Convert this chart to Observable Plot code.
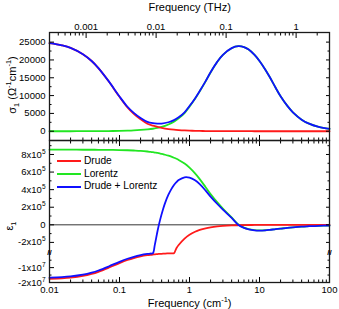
<!DOCTYPE html>
<html><head><meta charset="utf-8">
<script src="https://cdn.jsdelivr.net/npm/d3@7"></script>
<script src="https://cdn.jsdelivr.net/npm/@observablehq/plot@0.6"></script>
<style>
body{margin:0;background:#fff;font-family:"Liberation Sans",Arial,Helvetica,sans-serif;}
#wrap{position:relative;width:339px;height:309px;overflow:hidden;background:#fff}
#wrap svg{position:absolute;left:0}
.t{position:absolute;white-space:nowrap;color:#000;line-height:1}
.t sup,.t sub{font-size:68%;line-height:0}
.leg{position:absolute;display:flex;align-items:center;font-size:10.2px;color:#000;white-space:nowrap;line-height:1}
.leg span.sw{display:inline-block;width:24px;height:2px;margin-right:3px}
</style></head>
<body><div id="wrap"></div>
<script>
// ---- data ----
const freq = [0.01,0.015,0.02,0.03,0.04,0.05,0.07,0.1,0.13,0.16,0.2,0.25,0.3,0.35,0.4,0.5,0.6,0.7,0.85,1,1.2,1.4,1.7,2,2.5,3,4,5,6,7,8.5,10,12,14,17,20,25,30,40,50,70,100];
const sigmaDrude = [24700,24100,23400,21600,19700,17700,14000,9650,6700,4900,3350,2100,1550,1200,950,620,430,320,215,157,110,80,55,40,25,18,10,6,4,3,2,2,1,1,1,0,0,0,0,0,0,0];
const sigmaLorentz = [0,0,2,8,15,24,48,100,165,240,360,520,700,950,1200,1900,2700,3600,5100,6900,9100,11200,14000,16500,19500,21400,23300,23850,23600,22900,21400,19700,17400,15200,12200,9800,7100,5300,3250,2200,1220,640];
const sigmaTotal = [24700,24100,23402,21608,19715,17724,14048,9750,6865,5140,3710,2620,2250,2150,2150,2520,3130,3920,5315,7057,9210,11280,14055,16540,19525,21418,23310,23856,23604,22903,21402,19702,17401,15201,12201,9800,7100,5300,3250,2200,1220,640];

const epsFreq = [0.01,0.015,0.02,0.03,0.04,0.05,0.07,0.1,0.13,0.16,0.2,0.25,0.28,0.3,0.32,0.35,0.38,0.42,0.45,0.5,0.55,0.6,0.65,0.7,0.85,1,1.2,1.4,1.7,2,2.5,3,4,5,6,7,8.5,10,12,14,17,20,25,30,40,50,70,100];
const epsDrude = [-17530000,-17195000,-16750000,-15610000,-14240000,-12800000,-10080000,-6950000,-4890000,-3560000,-2455000,-1653000,-1343000,-1182000,-1047000,-884000,-755000,-623000,-545000,-444000,-369000,-311000,-266000,-229500,-156300,-113200,-78800,-58000,-39300,-28400,-18200,-12650,-7120,-4560,-3160,-2325,-1577,-1139,-791,-581,-394,-285,-182,-127,-71,-46,-23,-11];
const epsLorentz = [855000,855000,855000,854000,854000,853000,852000,850000,848000,845000,841000,834000,829000,826000,822000,817000,811000,803000,797000,786000,775000,763000,751000,738000,697000,650000,585000,520000,428000,350000,255000,185000,85000,3000,-32000,-50000,-61000,-64000,-62000,-57000,-49000,-43000,-34000,-28000,-20000,-16000,-11000,-8000];
const epsTotal = [-16675000,-16340000,-15895000,-14756000,-13386000,-11947000,-9228000,-6100000,-4042000,-2715000,-1614000,-819000,-514000,-356000,-225000,-67000,56000,180000,252000,342000,406000,452000,485000,508500,540700,536800,506200,462000,388700,321600,236800,172350,77880,-1560,-35160,-52325,-62577,-65139,-62791,-57581,-49394,-43285,-34182,-28127,-20071,-16046,-11023,-8011];

const seriesNames = ["Drude", "Lorentz", "Drude + Lorentz"];
const seriesColors = ["#ff1a1a", "#22e622", "#1010ff"];

const xTicks = [0.01, 0.1, 1, 10, 100];
const thzTicks = [0.001, 0.01, 0.1, 1];
const thzLabels = ["0.001", "0.01", "0.1", "1"];
const sigmaTicks = [0, 5000, 10000, 15000, 20000, 25000];
const epsUpperTicks = [800000, 600000, 400000, 200000, 0, -200000];
const epsLowerTicks = [-10000000, -20000000];

// ---- helpers ----
const C = 0.0299792458; // THz per cm^-1
const BRK = -3e5, GAP = 22750, K = 0.01692; // broken-axis mapping for eps1
const T = v => v >= BRK ? v : BRK - GAP + (v - BRK) * K;

const xMinor = [];
for (const d of [0.01, 0.1, 1, 10]) for (let m = 2; m <= 9; m++) xMinor.push(d * m);
const thzMinor = [];
for (const d of [0.0001, 0.001, 0.01, 0.1, 1]) for (let m = 2; m <= 9; m++) {
  const v = d * m / C; if (v > 0.01 && v < 100) thzMinor.push(v);
}
const sigmaMinor = [2500, 7500, 12500, 17500, 22500];
const epsUpperMinor = [900000, 700000, 500000, 300000, 100000, -100000];
const epsLowerMinor = [-5000000, -15000000];

const epsLabel = new Map();
for (const v of [...epsUpperTicks, ...epsLowerTicks]) {
  if (v === 0) { epsLabel.set(T(v), "0"); continue; }
  const e = Math.floor(Math.log10(Math.abs(v)));
  const m = Math.round(v / Math.pow(10, e));
  epsLabel.set(T(v), `${m}x10^${e}`);
}

const font = '"Liberation Sans", Arial, Helvetica, sans-serif';
const style = {fontFamily: font, fontSize: "9.5px", background: "transparent", color: "#000", overflow: "visible"};
const frameStroke = "#1a1a1a";
const lw = 1.8;
const curve = "catmull-rom";
const [RED, GREEN, BLUE] = seriesColors;

const sigmaRows = freq.map((f, i) => ({f, drude: sigmaDrude[i], lorentz: sigmaLorentz[i], total: sigmaTotal[i]}));
const epsRows = epsFreq.map((f, i) => ({f, drude: epsDrude[i], lorentz: epsLorentz[i], total: epsTotal[i]}));
const thzRows = thzTicks.map((t, i) => ({x: t / C, label: thzLabels[i]}));

const blank = () => "";

const topPlot = Plot.plot({
  width: 339, height: 141, marginTop: 32, marginBottom: 1, marginLeft: 49, marginRight: 10,
  style,
  x: {type: "log", domain: [0.01, 100]},
  y: {domain: [-2600, 27700]},
  marks: [
    Plot.line(sigmaRows, {x: "f", y: "lorentz", stroke: GREEN, strokeWidth: lw, curve}),
    Plot.line(sigmaRows, {x: "f", y: "drude", stroke: RED, strokeWidth: lw, curve}),
    Plot.line(sigmaRows, {x: "f", y: "total", stroke: BLUE, strokeWidth: lw, curve}),
    Plot.axisX({anchor: "bottom", ticks: xTicks, tickSize: -5, tickFormat: blank, label: null}),
    Plot.axisX({anchor: "bottom", ticks: xMinor, tickSize: -2.5, tickFormat: blank, label: null}),
    Plot.axisX({anchor: "top", ticks: thzRows.map(d => d.x), tickSize: -5, tickFormat: blank, label: null}),
    Plot.axisX({anchor: "top", ticks: thzMinor, tickSize: -2.5, tickFormat: blank, label: null}),
    Plot.text(thzRows, {x: "x", text: "label", frameAnchor: "top", dy: -9, fill: "#000", fontSize: 9.5}),
    Plot.axisY({anchor: "left", ticks: sigmaTicks, tickSize: -5, tickPadding: 9, tickFormat: d3.format("d"), label: null}),
    Plot.axisY({anchor: "left", ticks: sigmaMinor, tickSize: -2.5, tickFormat: blank, label: null}),
    Plot.axisY({anchor: "right", ticks: sigmaTicks, tickSize: -4, tickFormat: blank, label: null}),
    Plot.axisY({anchor: "right", ticks: sigmaMinor, tickSize: -2.5, tickFormat: blank, label: null}),
    Plot.frame({stroke: frameStroke, strokeWidth: 1.3})
  ]
});
topPlot.style.top = "0px";

const botPlot = Plot.plot({
  width: 339, height: 170, marginTop: 1, marginBottom: 27, marginLeft: 49, marginRight: 10,
  style,
  x: {type: "log", domain: [0.01, 100]},
  y: {domain: [T(-2e7), 9.59e5]},
  marks: [
    Plot.ruleY([0], {stroke: "#000", strokeWidth: 0.8}),
    Plot.line(epsRows, {x: "f", y: d => T(d.lorentz), stroke: GREEN, strokeWidth: lw, curve}),
    Plot.line(epsRows, {x: "f", y: d => T(d.drude), stroke: RED, strokeWidth: lw, curve}),
    Plot.line(epsRows, {x: "f", y: d => T(d.total), stroke: BLUE, strokeWidth: lw, curve}),
    Plot.axisX({anchor: "bottom", ticks: xTicks, tickSize: -5, tickPadding: 9, tickFormat: d3.format("~g"), label: null}),
    Plot.axisX({anchor: "bottom", ticks: xMinor, tickSize: -2.5, tickFormat: blank, label: null}),
    Plot.axisX({anchor: "top", ticks: xTicks, tickSize: -5, tickFormat: blank, label: null}),
    Plot.axisX({anchor: "top", ticks: xMinor, tickSize: -2.5, tickFormat: blank, label: null}),
    Plot.axisY({anchor: "left", ticks: [...epsUpperTicks, ...epsLowerTicks].map(T), tickSize: -5, tickPadding: 9,
      tickFormat: d => epsLabel.get(d) ?? "", label: null}),
    Plot.axisY({anchor: "left", ticks: [...epsUpperMinor, ...epsLowerMinor].map(T), tickSize: -2.5, tickFormat: blank, label: null}),
    Plot.axisY({anchor: "right", ticks: [...epsUpperTicks, ...epsLowerTicks].map(T), tickSize: -4, tickFormat: blank, label: null}),
    Plot.axisY({anchor: "right", ticks: [...epsUpperMinor, ...epsLowerMinor].map(T), tickSize: -2.5, tickFormat: blank, label: null}),
    Plot.frame({stroke: frameStroke, strokeWidth: 1.3}),
    Plot.text([BRK - GAP / 2], {y: d => d, frameAnchor: "left", text: () => "//", fontSize: 8, fontWeight: "bold", fill: "#000", textAnchor: "middle"}),
    Plot.text([BRK - GAP / 2], {y: d => d, frameAnchor: "right", text: () => "//", fontSize: 8, fontWeight: "bold", fill: "#000", textAnchor: "middle"})
  ]
});
botPlot.style.top = "139px";

// superscripts in eps tick labels
botPlot.querySelectorAll("text").forEach(t => {
  const m = /^(-?\d+)x10\^(\d+)$/.exec(t.textContent);
  if (!m) return;
  t.textContent = "";
  const NS = "http://www.w3.org/2000/svg";
  const a = document.createElementNS(NS, "tspan"); a.textContent = m[1] + "x10";
  const b = document.createElementNS(NS, "tspan"); b.textContent = m[2];
  b.setAttribute("dy", "-4"); b.setAttribute("font-size", "6.5px");
  t.appendChild(a); t.appendChild(b);
});

const wrap = document.getElementById("wrap");
wrap.appendChild(topPlot);
wrap.appendChild(botPlot);

function addText(html, x, y, size, rotate) {
  const d = document.createElement("div");
  d.className = "t";
  d.innerHTML = html;
  d.style.left = x + "px"; d.style.top = y + "px"; d.style.fontSize = size + "px";
  d.style.transform = "translate(-50%,-50%)" + (rotate ? " rotate(-90deg)" : "");
  wrap.appendChild(d);
}
addText("Frequency (THz)", 189.7, 7, 11);
addText("Frequency (cm<sup>-1</sup>)", 189.7, 303, 11);
addText("σ<sub>1</sub> (Ω<sup>-1</sup>cm<sup>-1</sup>)", 12, 85, 11, true);
addText("ε<sub>1</sub>", 9, 226, 11, true);

seriesNames.forEach((name, i) => {
  const row = document.createElement("div");
  row.className = "leg";
  row.style.left = "57px";
  row.style.top = (161 + i * 12.8 - 6) + "px";
  row.style.height = "12px";
  row.innerHTML = `<span class="sw" style="background:${seriesColors[i]}"></span>${name}`;
  wrap.appendChild(row);
});
</script>
</body></html>
